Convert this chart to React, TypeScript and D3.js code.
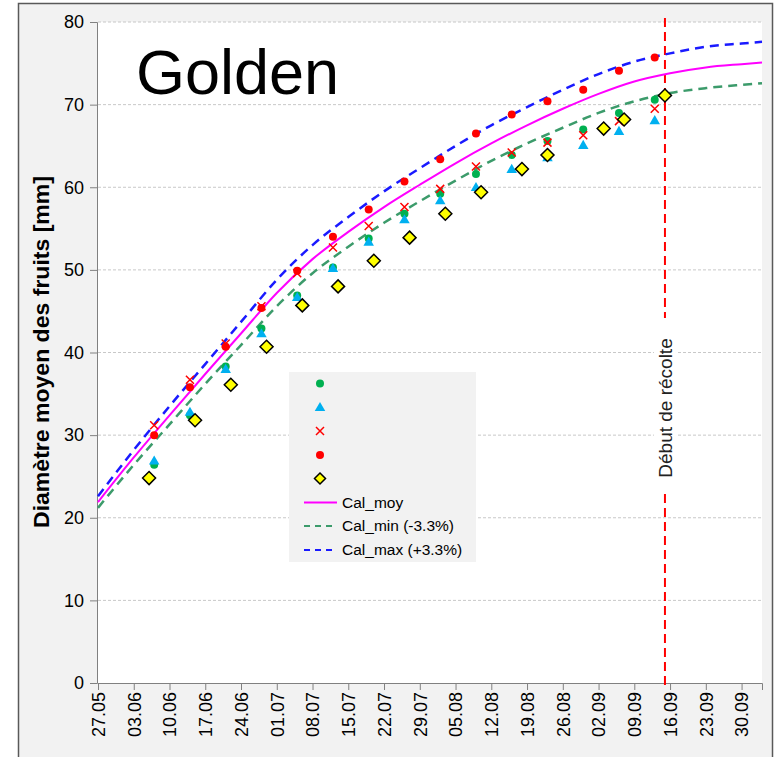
import React, { useEffect, useRef } from 'react';
import * as d3 from 'd3';

// Axe des dates (semaines)
const tickLabels = ['27.05', '03.06', '10.06', '17.06', '24.06', '01.07', '08.07', '15.07', '22.07', '29.07',
  '05.08', '12.08', '19.08', '26.08', '02.09', '09.09', '16.09', '23.09', '30.09'];
const yTicks = [0, 10, 20, 30, 40, 50, 60, 70, 80];

// Courbes de calibre
const curveDates = [...tickLabels, '04.10'];
const calMoy = [21.9, 27.3, 32.4, 37.4, 42.3, 47.2, 51.3, 54.6, 57.6, 60.3, 62.9, 65.3, 67.5, 69.5, 71.3, 72.8, 73.8, 74.5, 74.9, 75.1];
const calMin = [21.2, 26.4, 31.3, 36.2, 40.9, 45.6, 49.6, 52.8, 55.7, 58.3, 60.8, 63.2, 65.3, 67.2, 69.0, 70.4, 71.4, 72.0, 72.4, 72.6];
const calMax = [22.6, 28.2, 33.5, 38.6, 43.7, 48.8, 53.0, 56.4, 59.5, 62.3, 65.0, 67.5, 69.7, 71.8, 73.7, 75.2, 76.2, 77.0, 77.4, 77.6];

// Mesures
const mesureDates = ['07.06', '14.06', '21.06', '28.06', '05.07', '12.07', '19.07', '26.07', '02.08', '09.08',
  '16.08', '23.08', '30.08', '06.09', '13.09'];
const serieVert = [26.4, 32.4, 38.3, 42.9, 46.9, 50.3, 53.8, 56.8, 59.2, 61.6, 63.9, 65.6, 67.0, 69.0, 70.6];
const serieBleu = [26.8, 32.7, 37.9, 42.2, 46.6, 50.1, 53.3, 56.0, 58.3, 59.9, 62.1, 63.5, 65.0, 66.7, 68.0];
const serieCroix = [31.2, 36.7, 41.1, 45.6, 49.6, 52.7, 55.3, 57.6, 59.8, 62.5, 64.2, 65.4, 66.3, 68.0, 69.5];
const serieRouge = [30.0, 35.8, 40.7, 45.4, 49.9, 54.0, 57.3, 60.7, 63.4, 66.5, 68.8, 70.4, 71.8, 74.1, 75.7];

const losangeDates = ['06.06', '15.06', '22.06', '29.06', '06.07', '13.07', '20.07', '27.07', '03.08', '10.08',
  '18.08', '23.08', '03.09', '07.09', '15.09'];
const losangeValues = [24.8, 31.8, 36.1, 40.7, 45.7, 48.0, 51.1, 53.9, 56.8, 59.4, 62.2, 63.9, 67.1, 68.2, 71.1];

const recolteDate = '15.09';

const parse = (s: string) => d3.utcParse('%d.%m.%Y')(s + '.2014') as Date;
const font = 'Arial, "Liberation Sans", sans-serif';

const App = () => {
  const svgRef = useRef<SVGSVGElement>(null);

  useEffect(() => {
    const svg = d3.select(svgRef.current);
    svg.selectAll('*').remove();

    const left = 98, right = 762, top = 22, bottom = 683;

    const x = d3.scaleUtc().domain([parse('27.05'), parse('04.10')]).range([left, right]);
    const y = d3.scaleLinear().domain([0, 80]).range([bottom, top]);

    // cadre
    svg.append('rect').attr('x', 18.5).attr('y', 3.5).attr('width', 754).attr('height', 770)
      .attr('fill', '#f2f2f2').attr('stroke', '#595959').attr('stroke-width', 1.5);
    svg.append('rect').attr('x', left).attr('y', top).attr('width', right - left).attr('height', bottom - top)
      .attr('fill', '#fff');

    // grille
    svg.append('g').selectAll('line').data(yTicks.filter(d => d > 0)).join('line')
      .attr('x1', left).attr('x2', right).attr('y1', d => y(d)).attr('y2', d => y(d))
      .attr('stroke', '#c8c8c8').attr('stroke-width', 1).attr('stroke-dasharray', '3,2');

    // axe Y
    const yAxis = svg.append('g').attr('transform', `translate(${left - 1},0)`)
      .call(d3.axisLeft(y).tickValues(yTicks).tickSize(7).tickPadding(6));
    yAxis.select('.domain').attr('stroke', '#808080');
    yAxis.selectAll('.tick line').attr('stroke', '#808080');
    yAxis.selectAll('text').attr('font-family', font).attr('font-size', 18).attr('fill', '#000');

    // axe X
    const xAxis = svg.append('g').attr('transform', `translate(0,${bottom})`)
      .call(d3.axisBottom(x).tickValues(tickLabels.map(parse)).tickSize(7).tickFormat(d3.utcFormat('%d.%m') as any));
    xAxis.select('.domain').attr('stroke', '#808080');
    xAxis.selectAll('.tick line').attr('stroke', '#808080');
    xAxis.selectAll('text').attr('font-family', font).attr('font-size', 18).attr('fill', '#000')
      .attr('transform', 'rotate(-90)').attr('text-anchor', 'end')
      .attr('x', -9).attr('y', 0).attr('dy', '0.35em');

    // titre axe Y
    svg.append('text').attr('transform', 'translate(49,352) rotate(-90)')
      .attr('text-anchor', 'middle').attr('font-family', font).attr('font-weight', 'bold')
      .attr('font-size', 22).attr('textLength', 352).attr('lengthAdjust', 'spacingAndGlyphs')
      .text('Diamètre moyen des fruits [mm]');

    // début de récolte
    const xr = x(parse(recolteDate));
    svg.append('line').attr('x1', xr).attr('x2', xr).attr('y1', top - 4).attr('y2', bottom + 7)
      .attr('stroke', '#ff0000').attr('stroke-width', 2).attr('stroke-dasharray', '9,5');
    const g = svg.append('g').attr('transform', `translate(${xr},404) rotate(-90)`);
    g.append('rect').attr('x', -86).attr('y', -11).attr('width', 172).attr('height', 22).attr('fill', '#fff');
    g.append('text').attr('x', -4).attr('dy', '0.35em').attr('text-anchor', 'middle')
      .attr('font-family', font).attr('font-size', 19).attr('fill', '#222').text('Début de récolte');

    // courbes
    const line = d3.line<number>()
      .x((_, i) => x(parse(curveDates[i])))
      .y(d => y(d))
      .curve(d3.curveMonotoneX);
    svg.append('path').datum(calMin).attr('fill', 'none').attr('stroke', '#3c9b6b')
      .attr('stroke-width', 2.5).attr('stroke-dasharray', '9,6').attr('d', line);
    svg.append('path').datum(calMax).attr('fill', 'none').attr('stroke', '#1a1aff')
      .attr('stroke-width', 2.5).attr('stroke-dasharray', '9,6').attr('d', line);
    svg.append('path').datum(calMoy).attr('fill', 'none').attr('stroke', '#ff00ff')
      .attr('stroke-width', 2).attr('d', line);

    // marqueurs
    const circle = (sel: any, cx: number, cy: number, color: string) =>
      sel.append('circle').attr('cx', cx).attr('cy', cy).attr('r', 4).attr('fill', color);
    const triangle = (sel: any, cx: number, cy: number) =>
      sel.append('path').attr('transform', `translate(${cx},${cy})`)
        .attr('d', d3.symbol(d3.symbolTriangle, 48)()).attr('fill', '#00b0f0');
    const cross = (sel: any, cx: number, cy: number) =>
      sel.append('path').attr('d', `M${cx - 4},${cy - 4}L${cx + 4},${cy + 4}M${cx - 4},${cy + 4}L${cx + 4},${cy - 4}`)
        .attr('stroke', '#ff0000').attr('stroke-width', 1.5).attr('fill', 'none');
    const diamond = (sel: any, cx: number, cy: number, s = 6.5) =>
      sel.append('path').attr('d', `M${cx},${cy - s}L${cx + s},${cy}L${cx},${cy + s}L${cx - s},${cy}Z`)
        .attr('fill', '#ffff00').attr('stroke', '#000').attr('stroke-width', 1.5);

    const pts = svg.append('g');
    mesureDates.forEach((d, i) => circle(pts, x(parse(d)), y(serieVert[i]), '#00b050'));
    mesureDates.forEach((d, i) => triangle(pts, x(parse(d)), y(serieBleu[i])));
    mesureDates.forEach((d, i) => cross(pts, x(parse(d)), y(serieCroix[i])));
    mesureDates.forEach((d, i) => circle(pts, x(parse(d)), y(serieRouge[i]), '#ff0000'));
    losangeDates.forEach((d, i) => diamond(pts, x(parse(d)), y(losangeValues[i])));

    // légende
    const lg = svg.append('g');
    lg.append('rect').attr('x', 289).attr('y', 372).attr('width', 187).attr('height', 190).attr('fill', '#f2f2f2');
    circle(lg, 320, 383.5, '#00b050');
    triangle(lg, 320, 408);
    cross(lg, 320, 431);
    circle(lg, 320, 455, '#ff0000');
    diamond(lg, 320, 478.5, 5.5);
    const entries = [
      { label: 'Cal_moy', color: '#ff00ff', dash: null, yy: 502.5 },
      { label: 'Cal_min (-3.3%)', color: '#3c9b6b', dash: '6,5', yy: 526 },
      { label: 'Cal_max (+3.3%)', color: '#1a1aff', dash: '6,5', yy: 550 },
    ];
    entries.forEach(e => {
      lg.append('line').attr('x1', 304).attr('x2', 337).attr('y1', e.yy).attr('y2', e.yy)
        .attr('stroke', e.color).attr('stroke-width', 2).attr('stroke-dasharray', e.dash);
      lg.append('text').attr('x', 342).attr('y', e.yy).attr('dy', '0.35em')
        .attr('font-family', font).attr('font-size', 15.5).text(e.label);
    });

    // titre
    svg.append('text').attr('x', 136).attr('y', 94).attr('font-family', font)
      .attr('font-size', 63).text('Golden');
  }, []);

  return (
    <svg ref={svgRef} width={776} height={757}
      style={{ position: 'absolute', left: 0, top: 0, display: 'block', background: '#fff' }} />
  );
};

export default App;
